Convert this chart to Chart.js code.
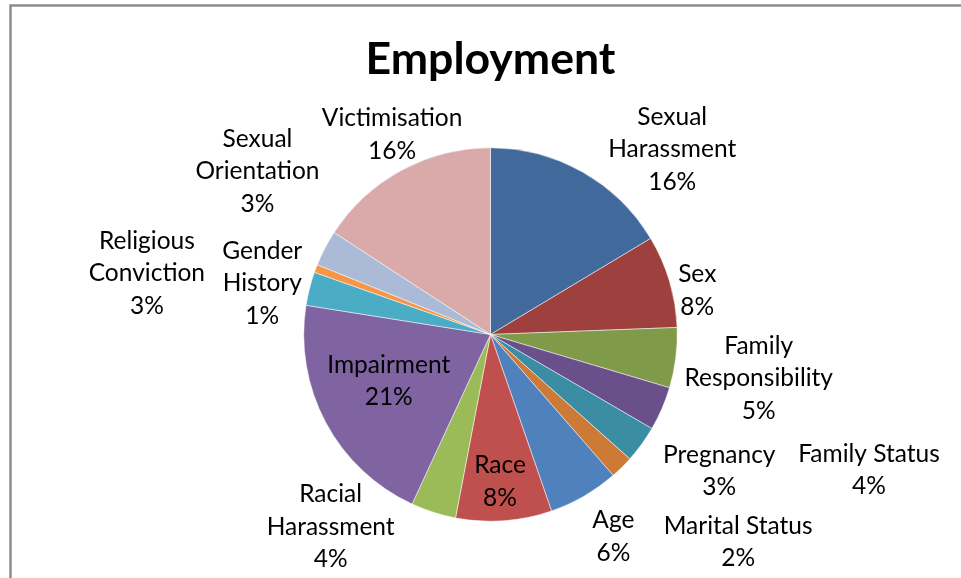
<!DOCTYPE html>
<html>
<head>
<meta charset="utf-8">
<script src="https://cdn.jsdelivr.net/npm/chart.js@4/dist/chart.umd.min.js"></script>
<style>
html,body{margin:0;padding:0;background:#ffffff;}
#wrap{width:961px;height:578px;position:relative;overflow:hidden;}
</style>
</head>
<body>
<div id="wrap"><canvas id="c" width="961" height="578"></canvas></div>
<script>
// ---- data ----
const chartTitle = 'Employment';
const categories = ['Sexual Harassment','Sex','Family Responsibility','Family Status','Pregnancy','Marital Status','Age','Race','Racial Harassment','Impairment','Religious Conviction','Gender History','Sexual Orientation','Victimisation'];
const values = [16.4, 8.0, 5.2, 3.8, 3.2, 2.0, 6.1, 8.3, 3.9, 20.6, 2.9, 0.7, 3.1, 15.8];
const colors = ['#41699B','#9E413E','#7F9A48','#69508A','#3B8DA3','#CE7A37','#4F81BD','#C0504D','#9BBB59','#8064A2','#4BACC6','#F79646','#AABAD7','#D9AAA9'];

// ---- label layout (wrapping + placement relative to pie centre, in radius units) ----
const labelLines = [['Sexual','Harassment'],['Sex'],['Family','Responsibility'],['Family Status'],['Pregnancy'],['Marital Status'],['Age'],['Race'],['Racial','Harassment'],['Impairment'],['Religious','Conviction'],['Gender','History'],['Sexual','Orientation'],['Victimisation']];
const labelOffsets = [[0.973,-0.960],[1.107,-0.203],[1.436,0.267],[2.027,0.757],[1.225,0.762],[1.326,1.144],[0.658,1.115],[0.051,0.818],[-0.856,1.061],[-0.545,0.281],[-1.840,-0.297],[-1.222,-0.241],[-1.248,-0.842],[-0.527,-1.040]];

const FONT = 'Lato, "Open Sans", sans-serif';
function fitSize(text, weight, targetWidth){
  const m = document.createElement('canvas').getContext('2d');
  m.font = weight + ' 100px ' + FONT;
  return 100 * targetWidth / m.measureText(text).width;
}
const labelSize = fitSize('Harassment', 'normal', 128);
const titleSize = fitSize('Employment', 'bold', 250);
const lineStep = 32.5;
const baselineShift = 2;

const total = values.reduce((a,b)=>a+b,0);

const framePlugin = {
  id:'frame',
  beforeDraw(chart){
    const c = chart.ctx;
    c.save();
    c.fillStyle = '#ffffff';
    c.fillRect(0,0,chart.width,chart.height);
    c.strokeStyle = '#8C8C8C';
    c.lineWidth = 2.5;
    c.beginPath();
    c.moveTo(10.5, chart.height + 5);
    c.lineTo(10.5, 5.5);
    c.lineTo(chart.width + 5, 5.5);
    c.stroke();
    c.restore();
  }
};

const labelPlugin = {
  id:'pieLabels',
  afterDatasetsDraw(chart){
    const c = chart.ctx;
    const meta = chart.getDatasetMeta(0);
    c.save();
    c.fillStyle = '#000000';
    c.textAlign = 'center';
    c.textBaseline = 'alphabetic';
    c.font = 'normal ' + labelSize.toFixed(2) + 'px ' + FONT;
    meta.data.forEach((arc, i) => {
      const p = arc.getProps(['x','y','outerRadius'], true);
      const cx = p.x + labelOffsets[i][0] * p.outerRadius;
      const cy = p.y + labelOffsets[i][1] * p.outerRadius + baselineShift;
      const lines = labelLines[i].concat([Math.round(values[i] / total * 100) + '%']);
      const n = lines.length;
      lines.forEach((t, k) => {
        c.fillText(t, cx, cy + (k - (n - 1) / 2) * lineStep);
      });
    });
    c.restore();
  }
};

const titleLH = 1.2;
const titleTopPad = 59.5 - titleSize * titleLH / 2;
const titleBottomPad = 147.5 - titleSize * titleLH - titleTopPad;

new Chart(document.getElementById('c'), {
  type:'pie',
  data:{
    labels:categories,
    datasets:[{data:values, backgroundColor:colors, borderColor:'#ffffff', borderWidth:0.5}]
  },
  options:{
    responsive:false,
    animation:false,
    devicePixelRatio:1,
    layout:{padding:{left:303.5, right:283.5, top:0, bottom:56.5}},
    plugins:{
      legend:{display:false},
      tooltip:{enabled:false},
      title:{display:true, text:chartTitle, color:'#000000',
        font:{family:FONT, size:titleSize, weight:'bold', lineHeight:titleLH},
        padding:{top:titleTopPad, bottom:titleBottomPad}}
    }
  },
  plugins:[framePlugin, labelPlugin]
});
</script>
</body>
</html>
